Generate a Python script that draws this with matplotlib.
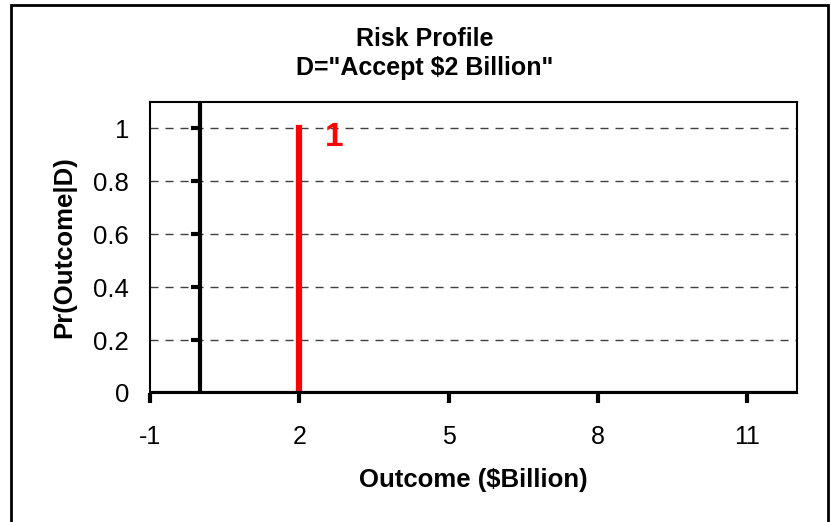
import matplotlib
matplotlib.use("Agg")
import matplotlib.pyplot as plt
from matplotlib.patches import Rectangle

# Risk profile for the "accept $2 billion" decision
outcomes = [2]          # $Billion
probs = [1.0]           # Pr(Outcome | D)
prob_labels = ["1"]

x_ticks = [-1, 2, 5, 8, 11]
y_ticks = [0, 0.2, 0.4, 0.6, 0.8, 1]

plt.rcParams['font.family'] = ['Liberation Sans', 'DejaVu Sans']

fig = plt.figure(figsize=(8.31, 5.22), dpi=100)
ax = fig.add_axes([150 / 831, 1 - 393 / 522, (797 - 150) / 831, (393 - 102) / 522])

ax.set_xlim(-1, 12)
ax.set_ylim(0, 1.1)

# horizontal dashed gridlines
for y in y_ticks[1:]:
    ax.axhline(y, color='#404040', lw=1.0, ls=(0, (5.8, 5)), zorder=1)

# thick axis lines through the origin
ax.axvline(0, color='black', lw=3, zorder=2)
ax.axhline(0, color='black', lw=3, zorder=4)

# probability spikes
ax.vlines(outcomes, 0, probs, color='#ff0000', lw=4.5, zorder=3,
          capstyle='projecting')
for x, p, lab in zip(outcomes, probs, prob_labels):
    ax.text(x + 0.52, p - 0.035, lab, color='#ff0000', fontsize=24, fontweight='bold',
            ha='left', va='center')

for s in ax.spines.values():
    s.set_linewidth(1.5)
    s.set_color('black')

# x ticks hang below the bottom edge
ax.set_xticks(x_ticks)
ax.set_xticklabels([str(t) for t in x_ticks], fontsize=18)
ax.tick_params(axis='x', direction='out', length=7, width=3, pad=16)

# y ticks sit on the x=0 line, labels stay at the left edge
ax.set_yticks(y_ticks)
ax.set_yticklabels([f"{t:g}" for t in y_ticks], fontsize=18.5)
ax.tick_params(axis='y', length=0, pad=15)
for y in y_ticks[1:]:
    ax.plot([-0.18, 0], [y, y], color='black', lw=3, zorder=2, solid_capstyle='butt')

ax.set_xlabel("Outcome ($Billion)", fontsize=18.5, fontweight='bold', labelpad=14)
ax.set_ylabel("Pr(Outcome|D)", fontsize=18.5, fontweight='bold', labelpad=12)

fig.text(425 / 831, 1 - 46 / 522, "Risk Profile",
         ha='center', va='baseline', fontsize=18, fontweight='bold')
fig.text(425 / 831, 1 - 75 / 522, 'D="Accept $2 Billion"',
         ha='center', va='baseline', fontsize=18, fontweight='bold')

# frame round the whole chart
fig.patches.append(Rectangle((11 / 831, -0.05), (828 - 11) / 831, 1.05 - 5 / 522,
                             transform=fig.transFigure, fill=False,
                             edgecolor='black', lw=2))

fig.savefig("out.png", dpi=100)
